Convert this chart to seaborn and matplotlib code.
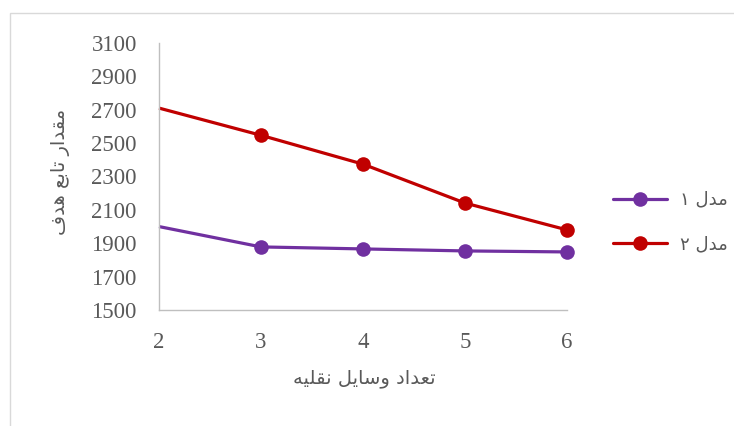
import matplotlib
matplotlib.use("Agg")
import matplotlib.pyplot as plt
import seaborn as sns
import pandas as pd
from matplotlib.lines import Line2D
from matplotlib.patches import Rectangle

# ---- data ----
vehicles = [2, 3, 4, 5, 6]
model1 = [2000, 1878, 1866, 1854, 1848]
model2 = [2710, 2547, 2374, 2141, 1980]
# Persian labels (presentation forms, visual order so they render joined)
label_model1 = "\u06F1 \uFEDD\uFEAA\uFEE3"          # مدل ۱
label_model2 = "\u06F2 \uFEDD\uFEAA\uFEE3"          # مدل ۲
xlabel_text = ("\uFEEA\uFEF4\uFEE0\uFED8\uFEE7 "     # نقلیه
               "\uFEDE\uFEF3\uFE8E\uFEB3\uFEED "     # وسایل
               "\uFEA9\uFE8D\uFEAA\uFECC\uFE97")     # تعداد
ylabel_text = ("\uFED1\uFEAA\uFEEB "                 # هدف
               "\uFECA\uFE91\uFE8E\uFE97 "           # تابع
               "\uFEAD\uFE8D\uFEAA\uFED8\uFEE3")     # مقدار
yticks = [1500, 1700, 1900, 2100, 2300, 2500, 2700, 2900, 3100]
xticks = [2, 3, 4, 5, 6]
colors = ["#7030A0", "#C00000"]

df = pd.DataFrame({
    "x": vehicles * 2,
    "y": model1 + model2,
    "series": [label_model1] * len(model1) + [label_model2] * len(model2),
})

sns.set_theme(style="white")
plt.rcParams["font.family"] = ["DejaVu Sans"]

fig = plt.figure(figsize=(7.34, 4.26), dpi=100)
ax = fig.add_axes([159 / 734, 1 - 310 / 426, (567 - 159) / 734, (310 - 43) / 426])

sns.lineplot(data=df, x="x", y="y", hue="series", palette=colors,
             marker="o", markersize=10.5, markeredgewidth=0, linewidth=2.3,
             legend=False, ax=ax, clip_on=False)
for ln in ax.lines:
    ln.set_markevery(list(range(1, len(vehicles))))
    ln.set_solid_capstyle("butt")

ax.set_xlim(2, 6)
ax.set_ylim(1500, 3100)
ax.set_xticks(xticks)
ax.set_yticks(yticks)
tick_font = dict(family="Liberation Serif", size=16.5, color="#595959")
ax.set_xticklabels([str(v) for v in xticks], **tick_font)
ax.set_yticklabels([str(v) for v in yticks], **tick_font)
ax.tick_params(axis="both", length=0)
ax.tick_params(axis="y", pad=16)
ax.tick_params(axis="x", pad=16)

for s in ["top", "right"]:
    ax.spines[s].set_visible(False)
for s in ["left", "bottom"]:
    ax.spines[s].set_color("#BFBFBF")
    ax.spines[s].set_linewidth(1.0)
ax.grid(False)

ax.set_xlabel("")
ax.set_ylabel("")
fig.text(364 / 734, 1 - 378 / 426, xlabel_text, ha="center", va="center",
         fontsize=14, color="#595959")
fig.text(61 / 734, 1 - 172 / 426, ylabel_text, ha="center", va="center",
         rotation=90, fontsize=14, color="#595959")

handles = [Line2D([], [], color=c, marker="o", markersize=10.5, markeredgewidth=0,
                  linewidth=2.3) for c in colors]
fig.legend(handles, [label_model1, label_model2], loc="center left",
           bbox_to_anchor=(613 / 734, 1 - 222 / 426), frameon=False,
           fontsize=13, handlelength=3.0, handletextpad=0.7, labelspacing=1.45,
           borderpad=0, borderaxespad=0, labelcolor="#595959")

fig.patches.append(Rectangle((10 / 734, -0.2), 1.2, 0.2 + (426 - 13) / 426,
                             transform=fig.transFigure, fill=False,
                             edgecolor="#D9D9D9", linewidth=1.0))

fig.savefig("out.png", dpi=100)
